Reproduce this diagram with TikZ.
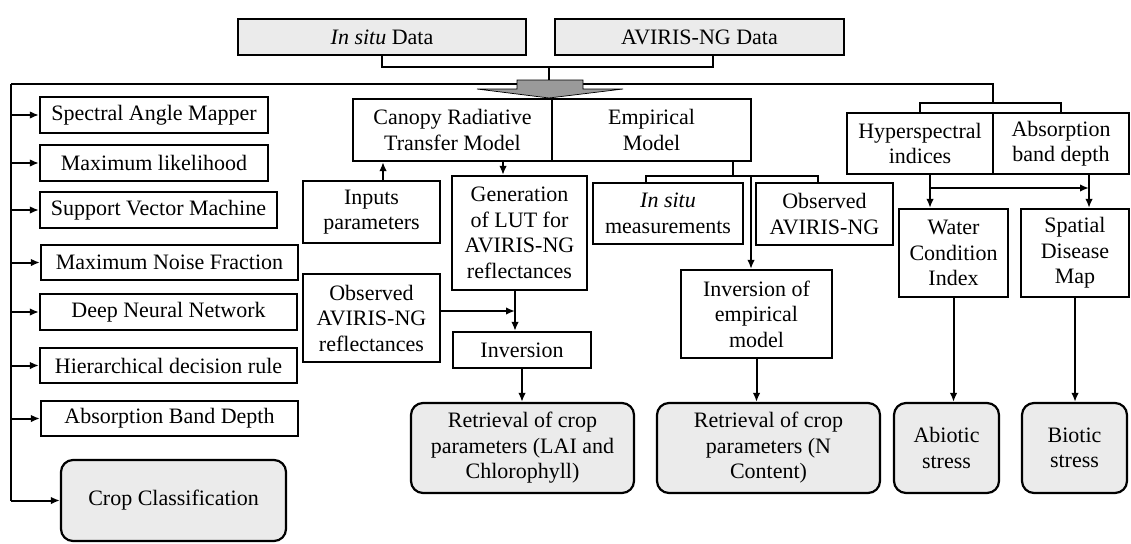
\documentclass[tikz,border=0pt]{standalone}
\usepackage{fontspec}
\setmainfont{Liberation Serif}
\usetikzlibrary{arrows.meta}
\definecolor{boxgray}{HTML}{EBEBEB}
\definecolor{arrgray}{HTML}{9A9A9A}
\begin{document}
\begin{tikzpicture}[x=1pt,y=-1pt,
  font=\fontsize{22}{25.5}\selectfont,
  box/.style={draw, line width=2.2pt, inner sep=0pt, align=center, fill=white},
  gbox/.style={box, fill=boxgray},
  rbox/.style={gbox, rounded corners=12pt},
  conn/.style={line width=2pt},
  arr/.style={conn, -{Latex[length=9pt,width=7.5pt]}}]
\useasboundingbox (0,0) rectangle (1131,543);

% top data boxes
\node[gbox, minimum width=288pt, minimum height=36pt] (insitu) at (382,37) {\textit{In situ} Data};
\node[gbox, minimum width=289pt, minimum height=36pt] (aviris) at (699.5,37) {AVIRIS-NG Data};

% left list
\node[box, minimum width=228pt, minimum height=36pt] (sam) at (154,115) {Spectral Angle Mapper};
\node[box, minimum width=228pt, minimum height=36pt] (ml) at (154,163) {Maximum likelihood};
\node[box, minimum width=237pt, minimum height=36pt] (svm) at (158.5,210) {Support Vector Machine};
\node[box, minimum width=257pt, minimum height=35pt] (mnf) at (169.5,262.5) {Maximum Noise Fraction};
\node[box, minimum width=257pt, minimum height=36pt] (dnn) at (168.5,312) {Deep Neural Network};
\node[box, minimum width=257pt, minimum height=35pt] (hdr) at (168.5,365.5) {Hierarchical decision rule};
\node[box, minimum width=257pt, minimum height=35pt] (abd) at (169.5,418.5) {Absorption Band Depth};
\node[rbox, minimum width=225pt, minimum height=81pt] (crop) at (173.5,500.5) {Crop Classification};

% models
\node[box, minimum width=199pt, minimum height=62pt] (canopy) at (452.5,130) {Canopy Radiative\\Transfer Model};
\node[box, minimum width=199pt, minimum height=62pt] (empirical) at (651.5,130) {Empirical\\Model};

\node[box, minimum width=137pt, minimum height=62pt] (inputs) at (371.5,212) {Inputs\\parameters};
\node[box, minimum width=135pt, minimum height=114pt] (gen) at (519.5,233) {Generation\\of LUT for\\AVIRIS-NG\\reflectances};
\node[box, minimum width=137pt, minimum height=88pt] (obs1) at (371.5,318) {Observed\\AVIRIS-NG\\reflectances};
\node[box, minimum width=138pt, minimum height=36pt] (inv) at (522,350) {Inversion};

\node[box, minimum width=150pt, minimum height=61pt] (insitum) at (668,213.5) {\textit{In situ}\\measurements};
\node[box, minimum width=137pt, minimum height=62pt] (obs2) at (824.5,214) {Observed\\AVIRIS-NG};
\node[box, minimum width=151pt, minimum height=88pt] (invemp) at (756.5,314) {Inversion of\\empirical\\model};

\node[box, minimum width=146pt, minimum height=61pt] (hyper) at (920,143.5) {Hyperspectral\\indices};
\node[box, minimum width=136pt, minimum height=61pt] (absb) at (1061,143.5) {Absorption\\band depth};
\node[box, minimum width=109pt, minimum height=88pt] (water) at (953.5,253) {Water\\Condition\\Index};
\node[box, minimum width=108pt, minimum height=88pt] (spatial) at (1075,253) {Spatial\\Disease\\Map};

% results
\node[rbox, minimum width=223pt, minimum height=90pt] (retLAI) at (522.5,448) {Retrieval of crop\\parameters (LAI and\\Chlorophyll)};
\node[rbox, minimum width=223pt, minimum height=90pt] (retN) at (768.5,448) {Retrieval of crop\\parameters (N\\Content)};
\node[rbox, minimum width=105pt, minimum height=90pt] (abiotic) at (946.5,448) {Abiotic\\stress};
\node[rbox, minimum width=105pt, minimum height=90pt] (biotic) at (1074.5,448) {Biotic\\stress};

% top bracket and trunk
\coordinate (tb1) at (549,67);
\coordinate (tl) at (11,84);
\coordinate (tr) at (993,84);
\coordinate (hb) at (993,103);
\coordinate (tb) at (11,500.5);
\draw[conn] (insitu.south) -- (insitu.south |- tb1) -- ([xshift=13.5pt]aviris.south |- tb1) -- ([xshift=13.5pt]aviris.south);
\draw[conn] (tb1) -- (tb1 |- tl);
\draw[conn] (tl) -- (tr) -- (hb);
\draw[conn] (hyper.north) -- (hyper.north |- hb) -- (absb.north |- hb) -- (absb.north);
\draw[fill=arrgray, line width=0.7pt, line join=miter] (517,80) -- (583,80) -- (583,89) -- (623,89) -- (549,98) -- (477,89) -- (517,89) -- cycle;

% left trunk
\draw[conn] (tl) -- (tb);
\foreach \n in {sam,ml,svm,mnf,dnn,hdr,abd}{
  \draw[arr] (tl |- \n.west) -- (\n.west);
}
\draw[arr] (tb) -- (crop.west);

% canopy branch
\draw[arr] ([xshift=11.5pt]inputs.north) -- ([xshift=11.5pt]inputs.north |- canopy.south);
\draw[arr] ([xshift=-16.5pt]gen.north |- canopy.south) -- ([xshift=-16.5pt]gen.north);
\coordinate (gs) at ([xshift=-4.5pt]gen.south);
\draw[arr] (gs) -- (gs |- inv.north);
\draw[arr] ([yshift=7pt]obs1.east) -- ([yshift=7pt]obs1.east -| gs);
\draw[arr] (inv.south) -- (inv.south |- retLAI.north);

% empirical branch
\coordinate (eb) at (733,176);
\draw[conn] (eb |- empirical.south) -- (eb);
\draw[conn] ([xshift=-22pt]insitum.north) -- ([xshift=-22pt]insitum.north |- eb) -- ([xshift=-6.5pt]obs2.north |- eb) -- ([xshift=-6.5pt]obs2.north);
\draw[arr] ([xshift=-5.5pt]invemp.north |- eb) -- ([xshift=-5.5pt]invemp.north);
\draw[arr] (invemp.south) -- (invemp.south |- retN.north);

% indices branch
\coordinate (hs) at ([xshift=10pt]hyper.south);
\coordinate (as) at ([xshift=28pt]absb.south);
\coordinate (hm) at (930,188);
\draw[arr] (hs) -- (hs |- water.north);
\draw[arr] (as) -- (as |- spatial.north);
\draw[arr] (hm) -- (hm -| as);
\draw[arr] (water.south) -- (water.south |- abiotic.north);
\draw[arr] (spatial.south) -- (spatial.south |- biotic.north);
\end{tikzpicture}
\end{document}
